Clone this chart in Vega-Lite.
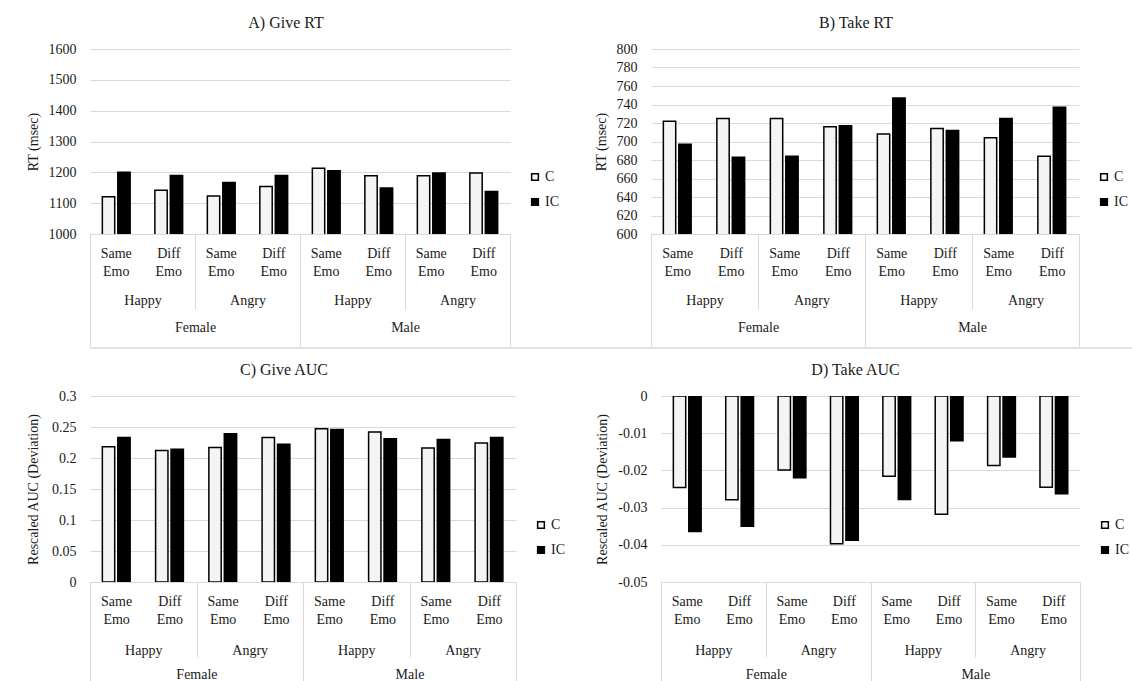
{
  "$schema": "https://vega.github.io/schema/vega-lite/v6.json",
  "padding": {"left": 26, "top": 15, "right": 0, "bottom": 0},
  "background": "white",
  "datasets": {
    "d": [
      {"panel":"A","cat":"Female Happy Same","cond":"C","value":1121},
      {"panel":"A","cat":"Female Happy Same","cond":"IC","value":1200},
      {"panel":"A","cat":"Female Happy Diff","cond":"C","value":1142},
      {"panel":"A","cat":"Female Happy Diff","cond":"IC","value":1190},
      {"panel":"A","cat":"Female Angry Same","cond":"C","value":1123},
      {"panel":"A","cat":"Female Angry Same","cond":"IC","value":1167},
      {"panel":"A","cat":"Female Angry Diff","cond":"C","value":1154},
      {"panel":"A","cat":"Female Angry Diff","cond":"IC","value":1190},
      {"panel":"A","cat":"Male Happy Same","cond":"C","value":1213},
      {"panel":"A","cat":"Male Happy Same","cond":"IC","value":1205},
      {"panel":"A","cat":"Male Happy Diff","cond":"C","value":1189},
      {"panel":"A","cat":"Male Happy Diff","cond":"IC","value":1149},
      {"panel":"A","cat":"Male Angry Same","cond":"C","value":1189},
      {"panel":"A","cat":"Male Angry Same","cond":"IC","value":1198},
      {"panel":"A","cat":"Male Angry Diff","cond":"C","value":1198},
      {"panel":"A","cat":"Male Angry Diff","cond":"IC","value":1138},
      {"panel":"B","cat":"Female Happy Same","cond":"C","value":722},
      {"panel":"B","cat":"Female Happy Same","cond":"IC","value":697},
      {"panel":"B","cat":"Female Happy Diff","cond":"C","value":725},
      {"panel":"B","cat":"Female Happy Diff","cond":"IC","value":683},
      {"panel":"B","cat":"Female Angry Same","cond":"C","value":725},
      {"panel":"B","cat":"Female Angry Same","cond":"IC","value":684},
      {"panel":"B","cat":"Female Angry Diff","cond":"C","value":716},
      {"panel":"B","cat":"Female Angry Diff","cond":"IC","value":717},
      {"panel":"B","cat":"Male Happy Same","cond":"C","value":708},
      {"panel":"B","cat":"Male Happy Same","cond":"IC","value":747},
      {"panel":"B","cat":"Male Happy Diff","cond":"C","value":714},
      {"panel":"B","cat":"Male Happy Diff","cond":"IC","value":712},
      {"panel":"B","cat":"Male Angry Same","cond":"C","value":704},
      {"panel":"B","cat":"Male Angry Same","cond":"IC","value":725},
      {"panel":"B","cat":"Male Angry Diff","cond":"C","value":684},
      {"panel":"B","cat":"Male Angry Diff","cond":"IC","value":737},
      {"panel":"C","cat":"Female Happy Same","cond":"C","value":0.218},
      {"panel":"C","cat":"Female Happy Same","cond":"IC","value":0.233},
      {"panel":"C","cat":"Female Happy Diff","cond":"C","value":0.212},
      {"panel":"C","cat":"Female Happy Diff","cond":"IC","value":0.214},
      {"panel":"C","cat":"Female Angry Same","cond":"C","value":0.217},
      {"panel":"C","cat":"Female Angry Same","cond":"IC","value":0.239},
      {"panel":"C","cat":"Female Angry Diff","cond":"C","value":0.233},
      {"panel":"C","cat":"Female Angry Diff","cond":"IC","value":0.222},
      {"panel":"C","cat":"Male Happy Same","cond":"C","value":0.247},
      {"panel":"C","cat":"Male Happy Same","cond":"IC","value":0.246},
      {"panel":"C","cat":"Male Happy Diff","cond":"C","value":0.242},
      {"panel":"C","cat":"Male Happy Diff","cond":"IC","value":0.231},
      {"panel":"C","cat":"Male Angry Same","cond":"C","value":0.216},
      {"panel":"C","cat":"Male Angry Same","cond":"IC","value":0.230},
      {"panel":"C","cat":"Male Angry Diff","cond":"C","value":0.224},
      {"panel":"C","cat":"Male Angry Diff","cond":"IC","value":0.233},
      {"panel":"D","cat":"Female Happy Same","cond":"C","value":-0.0246},
      {"panel":"D","cat":"Female Happy Same","cond":"IC","value":-0.0364},
      {"panel":"D","cat":"Female Happy Diff","cond":"C","value":-0.0279},
      {"panel":"D","cat":"Female Happy Diff","cond":"IC","value":-0.0350},
      {"panel":"D","cat":"Female Angry Same","cond":"C","value":-0.0199},
      {"panel":"D","cat":"Female Angry Same","cond":"IC","value":-0.0220},
      {"panel":"D","cat":"Female Angry Diff","cond":"C","value":-0.0397},
      {"panel":"D","cat":"Female Angry Diff","cond":"IC","value":-0.0388},
      {"panel":"D","cat":"Male Happy Same","cond":"C","value":-0.0216},
      {"panel":"D","cat":"Male Happy Same","cond":"IC","value":-0.0278},
      {"panel":"D","cat":"Male Happy Diff","cond":"C","value":-0.0318},
      {"panel":"D","cat":"Male Happy Diff","cond":"IC","value":-0.0120},
      {"panel":"D","cat":"Male Angry Same","cond":"C","value":-0.0187},
      {"panel":"D","cat":"Male Angry Same","cond":"IC","value":-0.0164},
      {"panel":"D","cat":"Male Angry Diff","cond":"C","value":-0.0245},
      {"panel":"D","cat":"Male Angry Diff","cond":"IC","value":-0.0263}
    ]
  },
  "config": {
    "font": "Liberation Serif",
    "view": {"stroke": null},
    "axis": {
      "labelFont": "Liberation Serif", "labelFontSize": 14, "labelColor": "#1a1a1a",
      "titleFont": "Liberation Serif", "titleFontSize": 14, "titleFontWeight": "normal", "titleColor": "#1a1a1a",
      "gridColor": "#d9d9d9", "domainColor": "#d9d9d9", "tickColor": "#d9d9d9"
    },
    "title": {"font": "Liberation Serif", "fontSize": 16, "fontWeight": "normal", "color": "#1a1a1a", "frame": "group"},
    "legend": {
      "orient": "none", "title": null, "symbolType": "square", "symbolSize": 45,
      "symbolStrokeColor": "black", "symbolStrokeWidth": 1.5,
      "labelFont": "Liberation Serif", "labelFontSize": 14, "labelColor": "#1a1a1a",
      "rowPadding": 11, "labelOffset": 3
    }
  },
  "spacing": 0,
  "resolve": {"scale": {"fill": "independent"}, "legend": {"fill": "independent"}},
  "vconcat": [
    {
      "spacing": 35,
      "resolve": {"scale": {"fill": "independent"}, "legend": {"fill": "independent"}},
      "hconcat": [
        {
          "width": 420, "height": 185,
          "title": {"text": "A) Give RT", "offset": 11, "dx": -14},
          "data": {"name": "d"},
          "transform": [{"filter": "datum.panel == 'A'"}],
          "encoding": {
            "x": {"field": "cat", "type": "nominal", "sort": null, "scale": {"paddingInner": 0, "paddingOuter": 0}},
            "xOffset": {"field": "cond", "type": "nominal", "scale": {"paddingInner": 0.2, "paddingOuter": 0.8}},
            "y": {"field": "value", "type": "quantitative", "scale": {"domain": [1000, 1600], "zero": false, "nice": false},
              "axis": {"values": [1000, 1100, 1200, 1300, 1400, 1500, 1600], "title": "RT (msec)", "grid": true, "domain": false, "ticks": false, "labelPadding": 14, "titlePadding": 8, "labelOverlap": false, "labelExpr": "'' + datum.value"}}
          },
          "layer": [
            {
              "mark": {"type": "bar", "stroke": "black", "strokeWidth": 1.5, "clip": true},
              "encoding": {
                "x": {"field": "cat", "type": "nominal", "sort": null,
                  "axis": {"orient": "bottom", "title": null, "ticks": false, "domain": true, "labelAngle": 0, "labelPadding": 12, "labelLineHeight": 18,
                    "labelExpr": "[split(datum.value, ' ')[2], 'Emo']"}},
                "fill": {"field": "cond", "type": "nominal", "scale": {"domain": ["C", "IC"], "range": ["#f4f4f4", "#000000"]},
                  "legend": {"legendX": 438, "legendY": 121}}
              }
            },
            {
              "mark": {"type": "bar", "opacity": 0, "clip": true},
              "encoding": {
                "x": {"field": "cat", "type": "nominal", "sort": null,
                  "axis": {"orient": "bottom", "title": null, "domain": false, "ticks": true, "tickBand": "extent", "tickSize": 75,
                    "tickOpacity": {"condition": {"test": "datum.value && indexof(datum.value, 'Same') >= 0", "value": 0}, "value": 1},
                    "labelPadding": -16, "labelAngle": 0, "labelOffset": 26.25,
                    "labelExpr": "(datum.value && indexof(datum.value, 'Same') >= 0) ? split(datum.value, ' ')[1] : ''"}}
              }
            },
            {
              "mark": {"type": "bar", "opacity": 0, "clip": true},
              "encoding": {
                "x": {"field": "cat", "type": "nominal", "sort": null,
                  "axis": {"orient": "bottom", "title": null, "domain": false, "ticks": true, "tickBand": "extent", "tickSize": 112,
                    "tickOpacity": {"condition": {"test": "!datum.value || indexof(datum.value, 'Angry Diff') >= 0", "value": 1}, "value": 0},
                    "labelPadding": -26, "labelAngle": 0, "labelOffset": 26.25,
                    "labelExpr": "(datum.value && indexof(datum.value, 'Happy Diff') >= 0) ? split(datum.value, ' ')[0] : ''"}}
              }
            }
          ],
          "resolve": {"axis": {"x": "independent"}}
        },
        {
          "width": 428, "height": 185,
          "title": {"text": "B) Take RT", "offset": 11, "dx": -9},
          "data": {"name": "d"},
          "transform": [{"filter": "datum.panel == 'B'"}],
          "encoding": {
            "x": {"field": "cat", "type": "nominal", "sort": null, "scale": {"paddingInner": 0, "paddingOuter": 0}},
            "xOffset": {"field": "cond", "type": "nominal", "scale": {"paddingInner": 0.2, "paddingOuter": 0.8}},
            "y": {"field": "value", "type": "quantitative", "scale": {"domain": [600, 800], "zero": false, "nice": false},
              "axis": {"values": [600, 620, 640, 660, 680, 700, 720, 740, 760, 780, 800], "title": "RT (msec)", "grid": true, "domain": false, "ticks": false, "labelPadding": 14, "titlePadding": 8, "labelOverlap": false, "labelExpr": "'' + datum.value"}}
          },
          "layer": [
            {
              "mark": {"type": "bar", "stroke": "black", "strokeWidth": 1.5, "clip": true},
              "encoding": {
                "x": {"field": "cat", "type": "nominal", "sort": null,
                  "axis": {"orient": "bottom", "title": null, "ticks": false, "domain": true, "labelAngle": 0, "labelPadding": 12, "labelLineHeight": 18,
                    "labelExpr": "[split(datum.value, ' ')[2], 'Emo']"}},
                "fill": {"field": "cond", "type": "nominal", "scale": {"domain": ["C", "IC"], "range": ["#f4f4f4", "#000000"]},
                  "legend": {"legendX": 446, "legendY": 121}}
              }
            },
            {
              "mark": {"type": "bar", "opacity": 0, "clip": true},
              "encoding": {
                "x": {"field": "cat", "type": "nominal", "sort": null,
                  "axis": {"orient": "bottom", "title": null, "domain": false, "ticks": true, "tickBand": "extent", "tickSize": 75,
                    "tickOpacity": {"condition": {"test": "datum.value && indexof(datum.value, 'Same') >= 0", "value": 0}, "value": 1},
                    "labelPadding": -16, "labelAngle": 0, "labelOffset": 26.75,
                    "labelExpr": "(datum.value && indexof(datum.value, 'Same') >= 0) ? split(datum.value, ' ')[1] : ''"}}
              }
            },
            {
              "mark": {"type": "bar", "opacity": 0, "clip": true},
              "encoding": {
                "x": {"field": "cat", "type": "nominal", "sort": null,
                  "axis": {"orient": "bottom", "title": null, "domain": false, "ticks": true, "tickBand": "extent", "tickSize": 112,
                    "tickOpacity": {"condition": {"test": "!datum.value || indexof(datum.value, 'Angry Diff') >= 0", "value": 1}, "value": 0},
                    "labelPadding": -26, "labelAngle": 0, "labelOffset": 26.75,
                    "labelExpr": "(datum.value && indexof(datum.value, 'Happy Diff') >= 0) ? split(datum.value, ' ')[0] : ''"}}
              }
            }
          ],
          "resolve": {"axis": {"x": "independent"}}
        }
      ]
    },
    {
      "width": 1106, "height": 14,
      "data": {"values": [{}]},
      "mark": {"type": "rule", "color": "#d9d9d9", "strokeWidth": 1.5},
      "encoding": {
        "y": {"datum": 1, "type": "quantitative", "axis": null, "scale": {"domain": [0, 1]}}
      }
    },
    {
      "spacing": 30,
      "resolve": {"scale": {"fill": "independent"}, "legend": {"fill": "independent"}},
      "hconcat": [
        {
          "width": 426, "height": 186,
          "title": {"text": "C) Give AUC", "offset": 11, "dx": -19},
          "data": {"name": "d"},
          "transform": [{"filter": "datum.panel == 'C'"}],
          "encoding": {
            "x": {"field": "cat", "type": "nominal", "sort": null, "scale": {"paddingInner": 0, "paddingOuter": 0}},
            "xOffset": {"field": "cond", "type": "nominal", "scale": {"paddingInner": 0.2, "paddingOuter": 0.8}},
            "y": {"field": "value", "type": "quantitative", "scale": {"domain": [0, 0.3], "nice": false},
              "axis": {"values": [0, 0.05, 0.1, 0.15, 0.2, 0.25, 0.3], "title": "Rescaled AUC (Deviation)", "grid": true, "domain": false, "ticks": false, "labelPadding": 14, "titlePadding": 11, "labelOverlap": false, "labelExpr": "'' + datum.value"}}
          },
          "layer": [
            {
              "mark": {"type": "bar", "stroke": "black", "strokeWidth": 1.5, "clip": true},
              "encoding": {
                "x": {"field": "cat", "type": "nominal", "sort": null,
                  "axis": {"orient": "bottom", "title": null, "ticks": false, "domain": true, "labelAngle": 0, "labelPadding": 12, "labelLineHeight": 18,
                    "labelExpr": "[split(datum.value, ' ')[2], 'Emo']"}},
                "fill": {"field": "cond", "type": "nominal", "scale": {"domain": ["C", "IC"], "range": ["#f4f4f4", "#000000"]},
                  "legend": {"legendX": 444, "legendY": 122}}
              }
            },
            {
              "mark": {"type": "bar", "opacity": 0, "clip": true},
              "encoding": {
                "x": {"field": "cat", "type": "nominal", "sort": null,
                  "axis": {"orient": "bottom", "title": null, "domain": false, "ticks": true, "tickBand": "extent", "tickSize": 75,
                    "tickOpacity": {"condition": {"test": "datum.value && indexof(datum.value, 'Same') >= 0", "value": 0}, "value": 1},
                    "labelPadding": -14, "labelAngle": 0, "labelOffset": 26.6,
                    "labelExpr": "(datum.value && indexof(datum.value, 'Same') >= 0) ? split(datum.value, ' ')[1] : ''"}}
              }
            },
            {
              "mark": {"type": "bar", "opacity": 0, "clip": true},
              "encoding": {
                "x": {"field": "cat", "type": "nominal", "sort": null,
                  "axis": {"orient": "bottom", "title": null, "domain": false, "ticks": true, "tickBand": "extent", "tickSize": 99,
                    "tickOpacity": {"condition": {"test": "!datum.value || indexof(datum.value, 'Angry Diff') >= 0", "value": 1}, "value": 0},
                    "labelPadding": -14, "labelAngle": 0, "labelOffset": 26.6,
                    "labelExpr": "(datum.value && indexof(datum.value, 'Happy Diff') >= 0) ? split(datum.value, ' ')[0] : ''"}}
              }
            }
          ],
          "resolve": {"axis": {"x": "independent"}}
        },
        {
          "width": 419, "height": 186,
          "title": {"text": "D) Take AUC", "offset": 11, "dx": -15},
          "data": {"name": "d"},
          "transform": [{"filter": "datum.panel == 'D'"}],
          "encoding": {
            "x": {"field": "cat", "type": "nominal", "sort": null, "scale": {"paddingInner": 0, "paddingOuter": 0}},
            "xOffset": {"field": "cond", "type": "nominal", "scale": {"paddingInner": 0.2, "paddingOuter": 0.8}},
            "y": {"field": "value", "type": "quantitative", "scale": {"domain": [-0.05, 0], "nice": false},
              "axis": {"values": [-0.05, -0.04, -0.03, -0.02, -0.01, 0], "title": "Rescaled AUC (Deviation)", "grid": true, "domain": false, "ticks": false, "labelPadding": 14, "titlePadding": 8, "labelOverlap": false, "labelExpr": "'' + datum.value"}}
          },
          "layer": [
            {
              "mark": {"type": "bar", "stroke": "black", "strokeWidth": 1.5, "clip": true},
              "encoding": {
                "x": {"field": "cat", "type": "nominal", "sort": null,
                  "axis": {"orient": "bottom", "title": null, "ticks": false, "domain": true, "labelAngle": 0, "labelPadding": 12, "labelLineHeight": 18,
                    "labelExpr": "[split(datum.value, ' ')[2], 'Emo']"}},
                "fill": {"field": "cond", "type": "nominal", "scale": {"domain": ["C", "IC"], "range": ["#f4f4f4", "#000000"]},
                  "legend": {"legendX": 437, "legendY": 122}}
              }
            },
            {
              "mark": {"type": "bar", "opacity": 0, "clip": true},
              "encoding": {
                "x": {"field": "cat", "type": "nominal", "sort": null,
                  "axis": {"orient": "bottom", "title": null, "domain": false, "ticks": true, "tickBand": "extent", "tickSize": 75,
                    "tickOpacity": {"condition": {"test": "datum.value && indexof(datum.value, 'Same') >= 0", "value": 0}, "value": 1},
                    "labelPadding": -14, "labelAngle": 0, "labelOffset": 26.2,
                    "labelExpr": "(datum.value && indexof(datum.value, 'Same') >= 0) ? split(datum.value, ' ')[1] : ''"}}
              }
            },
            {
              "mark": {"type": "bar", "opacity": 0, "clip": true},
              "encoding": {
                "x": {"field": "cat", "type": "nominal", "sort": null,
                  "axis": {"orient": "bottom", "title": null, "domain": false, "ticks": true, "tickBand": "extent", "tickSize": 99,
                    "tickOpacity": {"condition": {"test": "!datum.value || indexof(datum.value, 'Angry Diff') >= 0", "value": 1}, "value": 0},
                    "labelPadding": -14, "labelAngle": 0, "labelOffset": 26.2,
                    "labelExpr": "(datum.value && indexof(datum.value, 'Happy Diff') >= 0) ? split(datum.value, ' ')[0] : ''"}}
              }
            }
          ],
          "resolve": {"axis": {"x": "independent"}}
        }
      ]
    }
  ]
}
